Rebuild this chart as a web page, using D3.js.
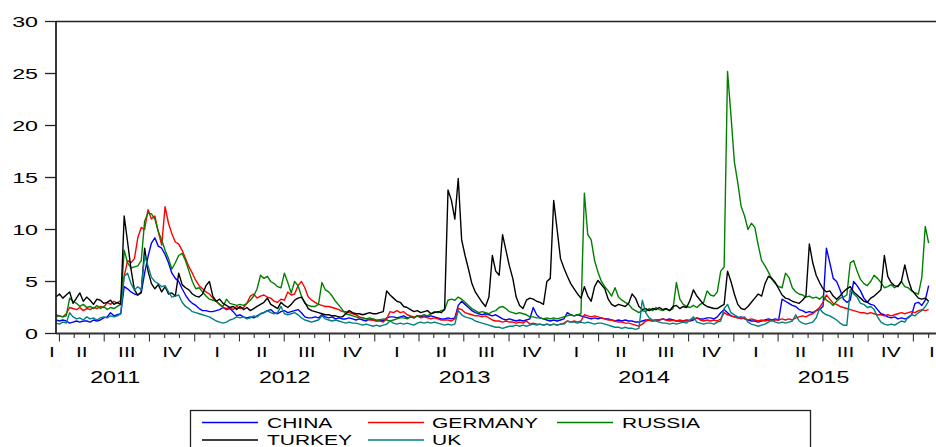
<!DOCTYPE html>
<html>
<head>
<meta charset="utf-8">
<script src="https://cdn.jsdelivr.net/npm/d3@7"></script>
<style>
  html, body { margin: 0; padding: 0; background: #fff; }
  svg { display: block; }
  text { font-family: "Liberation Sans", Arial, sans-serif; fill: #000; }
</style>
</head>
<body>
<script>
// ---- data (approx. weekly readings of the daily series, starting 25 Mar 2011) ----
const START = new Date(2011, 2, 25);
const STEP_DAYS = 6.93;

const CHINA = [
1.3,1.2,1.3,1.2,1.0,1.1,1.2,1.1,1.2,1.2, 1.1,1.3,1.2,1.3,1.5,1.6,2.0,1.7,1.8,1.9,
4.5,4.3,4.0,3.8,3.7,3.9,5.8,7.4,8.7,9.2, 8.4,8.2,7.6,6.8,5.8,5.3,5.0,4.3,3.7,3.2,
2.9,2.7,2.4,2.2,2.2,2.1,2.1,2.2,2.3,2.5, 2.3,2.4,2.1,1.7,1.8,1.6,1.5,1.6,1.5,1.7,
1.9,2.0,2.2,2.3,2.0,1.9,2.1,2.2,2.0,2.1, 2.2,2.3,2.0,1.6,1.5,1.5,1.6,1.5,1.8,1.6,
1.5,1.6,1.4,1.5,1.4,1.4,1.5,1.4,1.3,1.4, 1.3,1.2,1.4,1.3,1.2,1.3,1.2,1.5,1.6,1.6,
1.5,1.6,1.7,1.5,1.6,1.5,1.7,1.6,1.7,1.6, 1.7,1.6,1.5,1.4,1.4,1.5,1.4,1.5,2.7,3.1,
2.8,2.5,2.2,2.0,1.9,1.8,1.9,1.8,1.7,1.8, 1.6,1.4,1.3,1.4,1.3,1.2,1.3,1.2,1.3,1.4,
2.5,1.8,1.5,1.4,1.3,1.2,1.3,1.2,1.3,1.4, 2.0,1.8,1.7,1.8,1.7,1.6,1.5,1.4,1.5,1.4,
1.5,1.4,1.4,1.3,1.2,1.3,1.2,1.3,1.2,1.2, 1.1,1.1,1.2,1.3,1.3,1.2,1.3,1.3,1.4,1.3,
1.4,1.3,1.2,1.2,1.2,1.3,1.2,1.3,1.5,1.4, 1.4,1.5,1.5,1.4,1.6,2.0,2.3,2.0,1.7,1.6,
1.5,1.6,1.4,1.3,1.2,1.2,1.1,1.2,1.3,1.4, 1.3,1.4,1.3,3.3,3.1,2.9,2.7,2.6,2.3,2.2,
2.0,2.1,2.0,2.2,2.3,2.6,8.2,6.8,5.3,5.0, 4.2,3.3,3.0,3.2,5.0,4.6,4.1,3.4,3.0,2.8,
2.7,2.3,1.9,1.8,1.6,1.5,1.6,1.4,1.5,1.4, 1.5,1.8,2.9,3.0,2.7,3.2,4.6
];

const GERMANY = [
1.8,1.7,1.6,1.9,2.5,2.4,2.3,2.5,2.2,2.4, 2.3,2.5,2.4,2.6,2.5,3.0,2.8,3.1,2.9,3.2,
5.5,7.0,6.8,7.2,9.2,10.2,10.0,11.9,11.0,11.3, 9.8,8.5,12.2,10.6,9.6,8.8,8.6,8.0,7.2,6.4,
5.8,5.1,4.6,4.3,4.0,3.8,3.4,3.1,2.8,2.5, 2.4,2.5,2.3,2.6,2.4,2.5,2.9,3.6,3.8,3.4,
3.6,3.7,3.5,3.4,3.1,3.0,3.3,3.2,4.0,3.7, 3.8,4.6,5.0,4.4,3.5,3.2,3.0,2.8,2.7,2.6,
2.6,2.5,2.4,2.3,2.1,2.1,2.0,1.9,1.8,1.6, 1.5,1.4,1.3,1.3,1.2,1.2,1.1,1.4,2.1,2.0,
2.2,2.0,2.1,1.8,1.7,1.6,1.7,1.5,1.6,1.5, 1.4,1.5,1.4,1.3,1.3,1.3,1.2,1.4,2.4,2.3,
2.0,1.9,1.8,1.7,1.7,1.6,1.7,1.5,1.3,1.2, 1.2,1.1,1.2,1.1,1.1,1.0,1.1,1.0,1.2,0.9,
1.0,0.9,0.9,0.8,0.9,0.8,0.9,0.8,0.9,1.0, 1.2,1.1,1.2,1.1,1.2,1.8,1.7,1.6,1.7,1.6,
1.5,1.4,1.3,1.3,1.2,1.1,1.1,1.0,1.0,0.9, 0.8,0.7,0.9,1.2,1.3,1.2,1.3,1.3,1.4,1.3,
1.2,1.3,1.2,1.3,1.2,1.2,1.3,1.4,1.5,1.3, 1.2,1.3,1.2,1.3,1.2,1.4,2.0,1.8,1.7,1.6,
1.5,1.4,1.5,1.3,1.4,1.3,1.2,1.3,1.2,1.3, 1.2,1.3,1.3,1.4,1.3,1.4,1.3,1.5,1.6,1.7,
1.6,1.8,1.9,2.2,2.5,3.0,3.7,3.3,2.9,2.8, 2.6,2.5,2.4,2.3,2.2,2.1,2.0,2.0,1.9,2.0,
1.9,1.8,1.8,1.7,1.8,1.7,1.8,1.9,2.0,1.9, 2.0,2.1,2.0,2.2,2.3,2.2,2.3
];

const RUSSIA = [
1.6,1.7,1.6,1.7,3.4,3.1,2.9,2.6,2.8,2.5, 2.6,2.4,2.7,2.4,2.6,2.3,2.5,2.4,2.6,2.8,
8.0,6.8,6.3,6.4,6.5,7.0,10.8,11.6,11.5,11.0, 9.8,9.0,8.0,7.2,6.2,6.8,7.5,7.7,7.0,6.0,
5.0,4.3,4.4,4.0,3.6,3.3,3.2,3.1,2.8,2.6, 3.3,2.9,2.8,2.7,2.8,2.7,2.9,3.2,3.6,4.3,
5.6,5.3,5.5,5.0,4.8,4.5,4.4,5.8,4.9,3.9, 5.0,4.6,3.6,2.9,2.7,2.6,2.6,2.8,4.9,4.2,
4.0,3.6,3.1,2.7,2.3,1.9,1.8,1.7,1.6,1.5, 1.5,1.4,1.5,1.4,1.3,1.3,1.4,1.3,1.2,1.3,
1.4,1.5,1.5,1.4,1.6,1.5,1.7,1.7,1.8,1.7, 1.9,2.1,2.0,2.2,2.3,3.2,3.3,3.2,3.5,3.3,
3.0,2.7,2.4,2.2,2.0,2.1,2.0,1.9,2.1,2.2, 2.5,2.6,2.4,2.1,2.0,1.9,2.0,1.9,1.8,1.6,
1.6,1.5,1.5,1.4,1.5,1.4,1.5,1.4,1.5,1.6, 1.7,1.8,1.7,1.8,1.9,13.5,9.5,9.0,7.0,5.9,
5.0,4.5,4.1,3.6,4.4,3.5,3.2,3.0,2.8,2.4, 2.2,2.0,2.2,2.1,2.4,2.2,2.5,2.3,2.2,2.4,
2.2,2.4,4.9,3.3,2.8,2.6,2.5,2.7,2.5,2.8, 3.0,4.1,3.7,3.6,4.0,6.0,6.4,25.2,21.0,16.5,
14.5,12.2,11.3,10.0,10.6,10.2,8.5,7.0,6.5,5.9, 5.2,4.8,4.5,4.4,5.8,5.4,4.4,4.0,3.8,3.7,
3.5,3.6,3.4,3.5,3.3,3.6,3.2,3.0,2.7,3.1, 3.4,3.5,3.7,6.8,7.0,6.0,5.2,4.8,4.6,5.0,
5.6,5.3,4.9,4.4,4.5,4.7,4.4,4.6,5.0,4.5, 4.4,4.1,3.9,3.8,5.4,10.3,8.7
];

const TURKEY = [
3.5,3.8,3.4,3.7,4.0,2.9,3.4,3.9,3.1,3.5, 3.2,2.8,3.3,3.2,2.9,3.0,3.2,2.8,3.0,2.8,
11.3,8.8,6.2,4.2,3.7,4.0,8.2,6.0,4.8,4.3, 4.7,4.0,4.5,3.8,3.9,3.6,5.8,4.7,4.4,4.2,
3.8,3.6,3.5,3.8,4.6,5.0,3.6,3.1,3.3,2.9, 2.7,2.5,2.6,2.3,2.6,2.3,2.5,2.2,2.4,2.6,
2.8,3.0,3.4,2.8,2.6,2.4,3.0,2.7,2.5,2.8, 3.2,3.4,3.5,3.0,2.4,2.2,2.1,2.0,1.9,1.8,
1.8,1.7,1.7,1.6,1.6,1.9,2.2,2.0,1.9,1.9, 1.8,1.9,2.0,1.9,1.9,2.0,2.1,4.1,3.7,3.4,
3.1,3.0,2.6,2.5,2.3,2.1,2.2,2.0,2.1,2.2, 1.9,2.0,2.1,2.0,2.3,13.8,12.8,11.0,14.9,9.0,
7.5,6.2,4.8,4.0,3.5,3.0,2.6,3.5,7.5,6.0, 5.6,9.5,8.0,6.5,5.3,3.5,2.7,2.4,3.2,3.4,
3.3,3.1,3.0,2.8,5.0,5.3,12.8,10.0,7.2,6.3, 5.5,4.8,4.3,3.8,3.4,4.5,3.6,3.1,4.5,5.1,
4.7,4.3,3.3,2.8,2.6,2.8,2.7,2.6,2.9,3.8, 3.4,2.6,2.3,2.4,2.2,2.4,2.3,2.5,2.3,2.4,
2.2,2.6,2.7,2.4,2.6,2.5,3.2,4.2,3.6,3.2, 2.8,2.6,2.5,2.4,2.4,2.6,2.8,6.0,5.0,3.8,
2.8,2.4,2.3,2.6,3.0,3.4,3.8,3.6,4.8,5.5, 5.3,4.9,4.3,3.7,3.4,3.3,3.1,3.0,2.9,3.2,
3.6,8.6,6.8,5.6,4.9,4.3,4.0,4.1,3.6,3.3, 3.6,4.0,4.3,4.5,4.0,3.7,3.4,3.1,3.0,3.4,
3.6,3.9,4.2,7.5,5.5,4.9,4.6,4.5,5.0,6.6, 5.2,4.2,3.8,3.4,3.3,3.4,3.1
];

const UK = [
1.0,0.9,1.1,1.0,2.0,1.6,1.4,1.5,1.3,1.6, 1.4,1.5,1.3,1.5,1.6,1.5,1.7,1.6,1.7,1.9,
5.5,5.8,4.8,4.2,4.5,4.2,7.5,6.5,5.4,5.0, 4.8,4.5,4.6,4.0,3.5,3.6,3.7,3.0,2.6,2.4,
2.1,2.0,1.9,1.8,1.7,1.6,1.4,1.2,1.1,1.0, 1.1,1.3,1.4,1.6,1.5,1.6,1.4,1.5,1.7,1.6,
1.9,2.0,2.2,2.0,1.9,2.0,2.6,1.9,1.8,1.9, 2.0,1.8,1.5,1.3,1.2,1.1,1.2,1.3,1.7,1.4,
1.3,1.2,1.3,1.2,1.1,1.0,1.1,1.0,1.0,0.9, 0.8,0.9,0.8,0.7,0.8,0.7,0.8,0.9,1.2,1.0,
0.9,1.0,0.9,1.0,0.9,0.8,1.0,1.1,1.0,1.1, 1.0,1.1,1.0,0.9,0.8,0.9,0.8,0.9,2.2,1.8,
1.6,1.5,1.4,1.2,1.1,1.0,0.9,0.8,0.7,0.6, 0.6,0.5,0.6,0.7,0.7,0.8,0.7,0.8,0.7,0.8,
0.9,0.8,0.9,0.8,0.9,0.8,0.9,0.8,0.9,0.9, 1.2,1.1,1.1,1.0,1.1,1.0,1.1,1.0,0.9,1.0,
1.0,0.9,0.8,0.7,0.6,0.6,0.5,0.6,0.5,0.5, 0.4,0.5,3.2,2.0,1.5,1.3,1.2,1.1,1.0,1.0,
0.9,1.0,0.9,1.0,1.1,1.0,1.3,1.6,1.1,1.0, 0.9,1.0,1.0,0.9,1.1,1.2,2.4,2.8,2.0,1.8,
1.6,1.5,1.6,1.1,0.9,0.8,0.7,0.8,0.9,1.1, 1.3,1.1,1.0,1.1,1.0,1.1,1.2,1.8,1.2,1.0,
0.9,1.0,1.1,1.5,2.4,2.0,1.8,1.7,1.5,1.3, 1.0,0.8,0.8,4.2,3.8,3.5,2.9,2.8,2.5,2.6,
2.3,1.6,1.1,0.9,0.8,0.9,0.8,1.0,1.2,1.1, 1.6,1.8,1.7,2.0,2.2,2.6,3.1
];

const SERIES_NAMES = ["CHINA", "GERMANY", "RUSSIA", "TURKEY", "UK"];
const SERIES_COLORS = ["#0000ff", "#ff0000", "#008000", "#000000", "#008080"];
const Y_TICKS = [0, 5, 10, 15, 20, 25, 30];
const QUARTER_LABELS = ["I", "II", "III", "IV"];
const YEAR_LABELS = ["2011", "2012", "2013", "2014", "2015"];
const X_DOMAIN = [new Date(2011, 2, 25), new Date(2016, 1, 16)];

// ---- layout ----
const W = 936, H = 447;
const L = 56, R = 936, T = 21.5, B = 333.5;

const svg = d3.select("body").append("svg").attr("width", W).attr("height", H);

const x = d3.scaleTime().domain(X_DOMAIN).range([L, R]);
const y = d3.scaleLinear().domain([0, 30]).range([B, T]);

const dates = CHINA.map((_, i) => new Date(START.getTime() + i * STEP_DAYS * 86400000));
const seriesData = [CHINA, GERMANY, RUSSIA, TURKEY, UK];

function sText(g, px, py, str, size, anchor, sx) {
  g.append("text")
    .attr("transform", `translate(${px},${py}) scale(${sx},1)`)
    .attr("text-anchor", anchor)
    .style("font-size", size + "px")
    .text(str);
}

svg.append("defs").append("clipPath").attr("id", "plotclip")
  .append("rect").attr("x", L).attr("y", T - 2).attr("width", R - L).attr("height", B - T + 2);

// series lines
const line = d3.line().x((d, i) => x(dates[i])).y(d => y(d));
const plot = svg.append("g").attr("clip-path", "url(#plotclip)");
seriesData.forEach((vals, k) => {
  plot.append("path")
    .datum(vals)
    .attr("d", line)
    .attr("fill", "none")
    .attr("stroke", SERIES_COLORS[k])
    .attr("stroke-width", 1.4)
    .attr("stroke-linejoin", "round");
});

// frame: top + left + bottom
svg.append("line").attr("x1", L).attr("x2", R).attr("y1", T).attr("y2", T)
  .attr("stroke", "#222").attr("stroke-width", 1.5);
svg.append("line").attr("x1", L).attr("x2", L).attr("y1", T).attr("y2", B)
  .attr("stroke", "#222").attr("stroke-width", 1.8);
svg.append("line").attr("x1", L).attr("x2", R).attr("y1", B).attr("y2", B)
  .attr("stroke", "#333").attr("stroke-width", 1.8);

// y axis ticks & labels
const gy = svg.append("g");
Y_TICKS.forEach(v => {
  gy.append("line").attr("x1", L - 11).attr("x2", L).attr("y1", y(v)).attr("y2", y(v))
    .attr("stroke", "#222").attr("stroke-width", 1.3);
  sText(gy, 38, y(v) + 5.5, String(v), 15, "end", 1.55);
});

// x axis ticks: months (short), quarters (long)
const gx = svg.append("g");
d3.timeMonth.range(X_DOMAIN[0], X_DOMAIN[1]).forEach(m => {
  const isQ = m.getMonth() % 3 === 0;
  gx.append("line").attr("x1", x(m)).attr("x2", x(m))
    .attr("y1", B).attr("y2", B + (isQ ? 8 : 4.5))
    .attr("stroke", "#333").attr("stroke-width", 1.1);
});

// quarter labels at mid-quarter (kept inside the picture)
d3.timeMonth.every(3).range(new Date(2011, 0, 1), new Date(2016, 3, 1)).forEach(q => {
  const qEnd = d3.timeMonth.offset(q, 3);
  if (qEnd < X_DOMAIN[0] || q > X_DOMAIN[1]) return;
  let cx = (x(q) + x(qEnd)) / 2;
  cx = Math.min(Math.max(cx, L - 4), W - 4);
  sText(gx, cx, 357, QUARTER_LABELS[Math.floor(q.getMonth() / 3)], 14, "middle", 1.5);
});

// year labels
YEAR_LABELS.forEach(lbl => {
  const yr = +lbl;
  const s = new Date(yr, 0, 1), e = new Date(yr + 1, 0, 1);
  let cx = (x(s) + x(e)) / 2;
  if (s < X_DOMAIN[0]) {
    const visMid = (x(X_DOMAIN[0]) + x(e)) / 2;
    cx = (cx + visMid) / 2;
  }
  sText(gx, cx, 383, lbl, 16, "middle", 1.45);
});

// legend
const lg = svg.append("g");
lg.append("rect").attr("x", 190.5).attr("y", 410.5).attr("width", 620).attr("height", 60)
  .attr("fill", "none").attr("stroke", "#222").attr("stroke-width", 1.3);
const legendPos = [
  {lx: 202, ly: 422.5, tx: 267, ty: 427.5},
  {lx: 368, ly: 422.5, tx: 432, ty: 427.5},
  {lx: 557, ly: 422.5, tx: 622, ty: 427.5},
  {lx: 202, ly: 440, tx: 267, ty: 445},
  {lx: 368, ly: 440, tx: 432, ty: 445}
];
SERIES_NAMES.forEach((name, k) => {
  const p = legendPos[k];
  lg.append("line").attr("x1", p.lx).attr("x2", p.lx + 56).attr("y1", p.ly).attr("y2", p.ly)
    .attr("stroke", SERIES_COLORS[k]).attr("stroke-width", 1.4);
  sText(lg, p.tx, p.ty, name, 14, "start", 1.5);
});
</script>
</body>
</html>
